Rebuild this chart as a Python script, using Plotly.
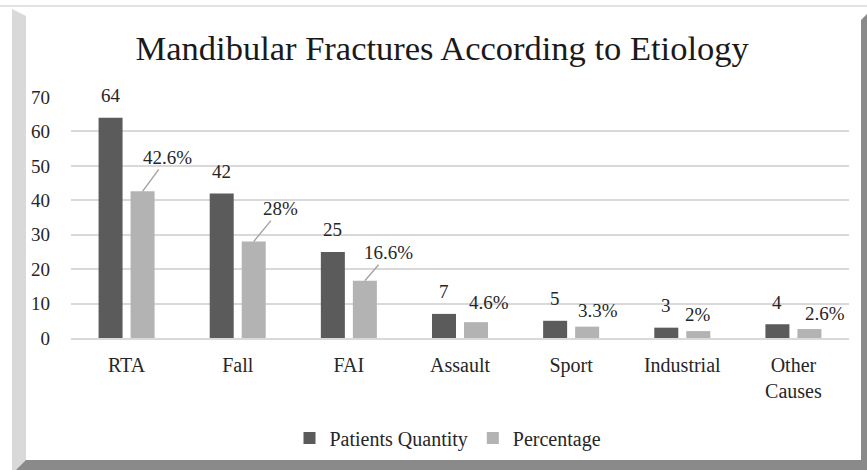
import plotly.graph_objects as go

categories = ["RTA", "Fall", "FAI", "Assault", "Sport", "Industrial", "Other<br>Causes"]
patients = [64, 42, 25, 7, 5, 3, 4]
percentage = [42.6, 28, 16.6, 4.6, 3.3, 2, 2.6]
pct_labels = ["42.6%", "28%", "16.6%", "4.6%", "3.3%", "2%", "2.6%"]
y_ticks = [0, 10, 20, 30, 40, 50, 60, 70]

W, H = 867, 470
ML, MR, MT, MB = 71, 18, 97, 132
PW, PH = W - ML - MR, H - MT - MB

def px(x):
    return (x - ML) / PW

def py(y):
    return (H - MB - y) / PH

def path(points):
    return "M " + " L ".join(f"{px(a):.5f},{py(b):.5f}" for a, b in points) + " Z"

DARK = "#5b5b5b"
LIGHT = "#b3b3b3"
FONT = "'Liberation Serif', 'Times New Roman', serif"
TXT = "#262626"

fig = go.Figure()
fig.add_trace(go.Bar(x=categories, y=patients, name="Patients Quantity",
                     marker_color=DARK, marker_line_width=0))
fig.add_trace(go.Bar(x=categories, y=percentage, name="Percentage",
                     marker_color=LIGHT, marker_line_width=0))

annotations = []
# value labels above dark bars
for c, v in zip(categories, patients):
    annotations.append(dict(x=c, y=v, text=str(v), showarrow=False, xshift=-16, yshift=22,
                            yanchor="middle", font=dict(family=FONT, size=19, color=TXT)))
# percentage labels
leader = {0: (25, -34), 1: (27, -33), 2: (24, -28)}
small = {3: (13, 20), 4: (11, 16), 5: (0, 17), 6: (16, 16)}
for i, (c, v, t) in enumerate(zip(categories, percentage, pct_labels)):
    if i in leader:
        ax, ay = leader[i]
        annotations.append(dict(x=c, y=v, text=t, showarrow=True, arrowhead=0, arrowwidth=1.5,
                                arrowcolor="#a6a6a6", ax=ax, ay=ay, xshift=16, standoff=0,
                                font=dict(family=FONT, size=19, color=TXT)))
    else:
        dx, dy = small[i]
        annotations.append(dict(x=c, y=v, text=t, showarrow=False, xshift=16 + dx, yshift=dy,
                                yanchor="middle", font=dict(family=FONT, size=19, color=TXT)))

shapes = [
    dict(type="path", xref="paper", yref="paper", layer="below", line_width=0,
         fillcolor="#e2e2e2", path=path([(0, 5), (867, 5), (867, 7), (0, 7)])),
    dict(type="path", xref="paper", yref="paper", layer="below", line_width=0,
         fillcolor="#d9d9d9", path=path([(12, 9), (26, 16), (26, 470), (12, 470)])),
    dict(type="path", xref="paper", yref="paper", layer="below", line_width=0,
         fillcolor="#8a8a8a", path=path([(861, 20), (867, 14), (867, 470), (861, 470)])),
    dict(type="path", xref="paper", yref="paper", layer="below", line_width=0,
         fillcolor="#8a8a8a", path=path([(26, 460), (867, 460), (867, 470), (16, 470)])),
]

fig.update_layout(
    width=W, height=H,
    margin=dict(l=ML, r=MR, t=MT, b=MB, pad=0),
    paper_bgcolor="white", plot_bgcolor="white",
    barmode="group", bargap=0.424, bargroupgap=0.25,
    title=dict(text="Mandibular Fractures According to Etiology", x=0.51, xanchor="center",
               y=1 - 48 / H, yanchor="middle",
               font=dict(family=FONT, size=34.5, color="#1a1a1a")),
    font=dict(family=FONT, color=TXT),
    xaxis=dict(showgrid=False, showline=True, linecolor="#d9d9d9", linewidth=1.5,
               ticks="", tickfont=dict(family=FONT, size=20, color=TXT),
               ticklabelstandoff=8),
    yaxis=dict(range=[0, 70], tickvals=y_ticks, showgrid=True, gridcolor="#d9d9d9", gridwidth=1.5,
               zeroline=False, showline=False, ticks="",
               tickfont=dict(family=FONT, size=19, color=TXT), ticklabelstandoff=20),
    legend=dict(orientation="h", x=px(448), xanchor="center", y=py(438), yanchor="middle",
                font=dict(family=FONT, size=20, color=TXT), itemwidth=30,
                bgcolor="rgba(0,0,0,0)"),
    annotations=annotations,
    shapes=shapes,
    showlegend=True,
)

fig.write_html("out.html", config={"displayModeBar": False},
               post_script="document.body.style.margin='0px';")
